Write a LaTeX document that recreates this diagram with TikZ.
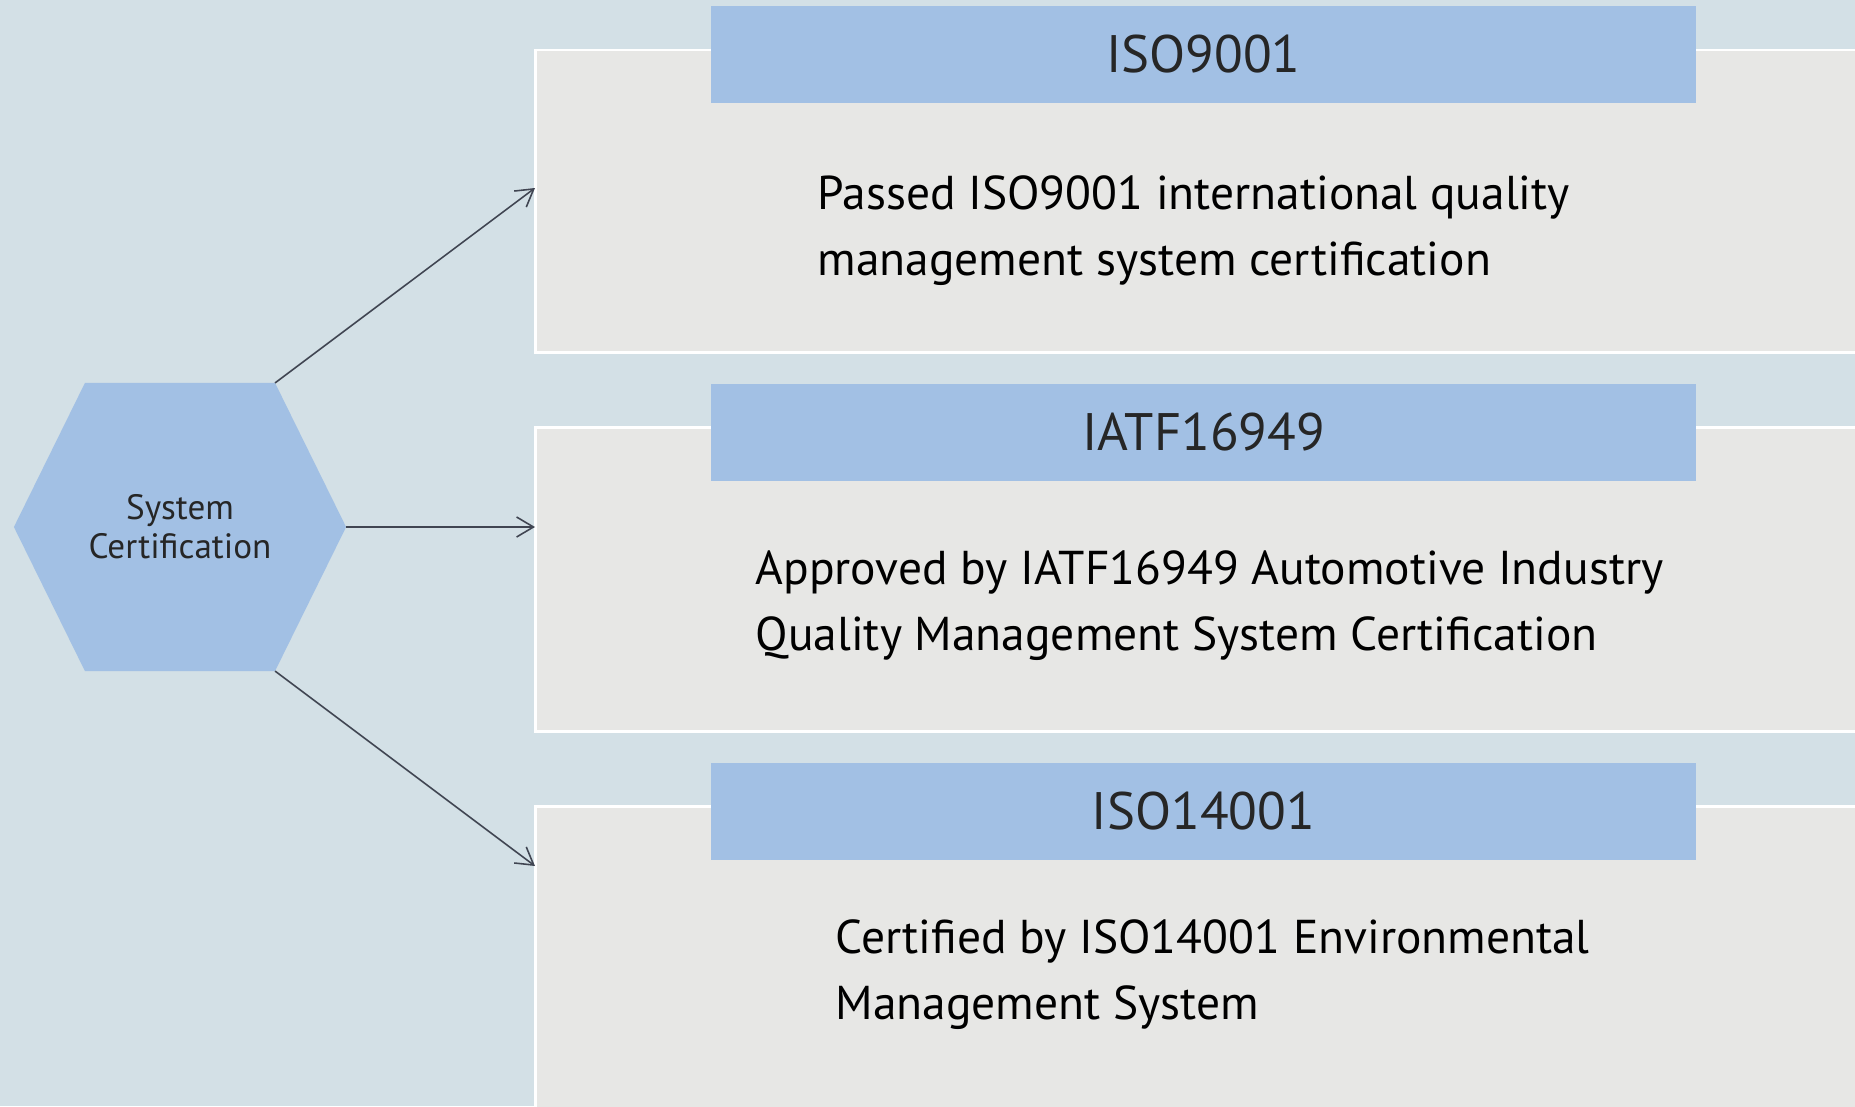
\documentclass[tikz,border=0pt]{standalone}
\usepackage{fontspec}
\setmainfont{PT Sans}
\usetikzlibrary{arrows.meta, positioning}
\definecolor{bggray}{RGB}{211, 224, 230}
\definecolor{cardgray}{RGB}{231, 231, 229}
\definecolor{headblue}{RGB}{162, 192, 228}
\definecolor{arrowslate}{RGB}{64, 69, 82}
\definecolor{textdark}{RGB}{38, 38, 38}

\begin{document}
\begin{tikzpicture}[x=0.01cm, y=-0.01cm,
  hexbox/.style={minimum width=3.32cm, minimum height=2.88cm, inner sep=0pt, outer sep=0pt, align=center, text=textdark, font=\fontsize{10}{11}\selectfont,
    path picture={\fill[headblue] (path picture bounding box.west) -- ([xshift=0.71cm]path picture bounding box.north west) -- ([xshift=-0.71cm]path picture bounding box.north east) -- (path picture bounding box.east) -- ([xshift=-0.71cm]path picture bounding box.south east) -- ([xshift=0.71cm]path picture bounding box.south west) -- cycle;}},
  card/.style={draw=white, line width=0.85pt, fill=cardgray, anchor=north west, minimum width=14cm, inner sep=0pt, outer sep=0pt},
  head/.style={fill=headblue, anchor=north west, minimum width=9.85cm, minimum height=0.97cm, inner sep=0pt, text=textdark, font=\fontsize{15}{18}\selectfont},
  body/.style={anchor=west, align=left, inner sep=0pt, text=black, font=\fontsize{13.5}{18.8}\selectfont},
  arr/.style={-{Straight Barb[length=4.8pt, width=5.7pt]}, draw=arrowslate, line width=0.45pt}]
  \useasboundingbox (0,0) rectangle (1855,1106);
  \clip (0,0) rectangle (1855,1106);
  \fill[bggray] (0,0) rectangle (1855,1106);

  % Hexagon
  \node[hexbox] (hex) at (180,527) {System\\Certification};

  % Cards
  \node[card, minimum height=3.02cm] (card1) at (535,50) {};
  \node[card, minimum height=3.04cm] (card2) at (535,427) {};
  \node[card, minimum height=3.4cm] (card3) at (535,806) {};

  % Headers
  \node[head] (head1) at (710,5) {ISO9001};
  \node[head] (head2) at (710,383) {IATF16949};
  \node[head] (head3) at (710,762) {ISO14001};

  % Texts
  \node[body] (body1) at (817,231) {Passed ISO9001 international quality\\management system certification};
  \node[body] (body2) at (755,606) {Approved by IATF16949 Automotive Industry\\Quality Management System Certification};
  \node[body] (body3) at (835,975) {Certified by ISO14001 Environmental\\Management System};

  % Arrows
  \coordinate (in1) at (535,188);
  \coordinate (in2) at (535,527);
  \coordinate (in3) at (535,866);
  \draw[arr] ([xshift=-0.71cm]hex.north east) -- (in1);
  \draw[arr] (hex.east) -- (in2);
  \draw[arr] ([xshift=-0.71cm]hex.south east) -- (in3);
\end{tikzpicture}
\end{document}
